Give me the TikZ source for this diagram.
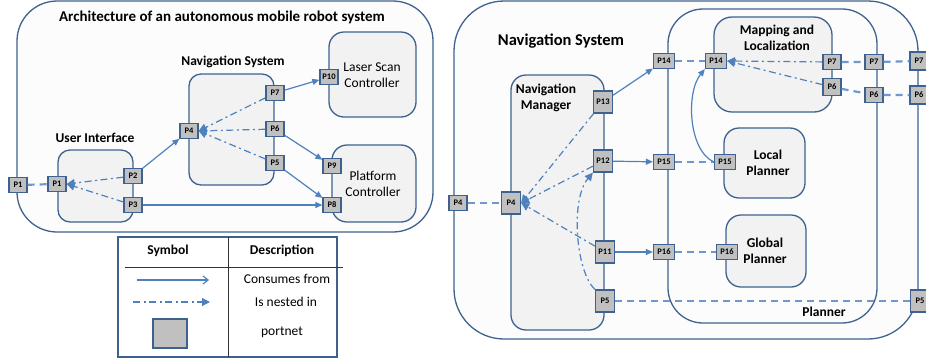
\documentclass[tikz,border=0pt]{standalone}
\usepackage{fontspec}
\setmainfont{Carlito}
\usetikzlibrary{arrows.meta,positioning}

\definecolor{linkblue}{RGB}{79,129,189}
\definecolor{dashblue}{RGB}{112,152,206}
\definecolor{boxline}{RGB}{62,98,143}
\definecolor{boxfill}{RGB}{242,242,242}
\definecolor{outerfill}{RGB}{252,252,252}
\definecolor{portfill}{RGB}{192,192,192}

\tikzset{
    outerbox/.style={draw=boxline, line width=1.3pt, fill=outerfill, rounded corners=#1},
    compbox/.style={draw=boxline, line width=1.3pt, fill=boxfill, rounded corners=#1},
    port/.style={draw=boxline, line width=1.3pt, fill=portfill, inner sep=0pt,
        font=\fontsize{8.5}{9}\selectfont\bfseries, minimum width=18pt, minimum height=15pt},
    bigport/.style={port, minimum width=19pt, minimum height=22pt},
    consumes/.style={draw=linkblue, line width=1.2pt, -{Triangle[length=7pt,width=6pt]}},
    nested/.style={draw=linkblue, line width=1.2pt, dash pattern=on 7pt off 3.5pt on 2pt off 3.5pt,
        -{Triangle[length=8pt,width=8pt]}},
    link/.style={draw=dashblue, line width=2.2pt, dash pattern=on 7pt off 5pt},
    heading/.style={font=\fontsize{13.5}{16}\selectfont\bfseries, align=center},
    plain/.style={font=\fontsize{13.5}{15.5}\selectfont, align=center}
}

\begin{document}
\begin{tikzpicture}[x=1pt,y=-1pt]
        \useasboundingbox (0,0) rectangle (926,360);
        \clip (0,0) rectangle (926,360);

        % architecture of the robot system
        \node[outerbox=40pt, minimum width=416pt, minimum height=231pt] (arch) at (225,116.5) {};
        \node[heading, font=\fontsize{15}{17}\selectfont\bfseries] (archtitle) at (222,17) {Architecture of an autonomous mobile robot system};

        \node[compbox=12pt, minimum width=75pt, minimum height=72pt] (ui) at (95.5,186) {};
        \node[compbox=12pt, minimum width=85pt, minimum height=111pt] (nav) at (231.5,129.5) {};
        \node[compbox=15pt, minimum width=87pt, minimum height=85pt] (lsc) at (372.5,74.5) {};
        \node[compbox=15pt, minimum width=84pt, minimum height=77pt] (pc) at (374,183.5) {};

        \node[heading] (uilabel) at (95,138) {User Interface};
        \node[heading] (navlabel) at (233,62) {Navigation System};
        \node[plain] (lsclabel) at (372,75) {Laser Scan\\Controller};
        \node[plain] (pclabel) at (373,184) {Platform\\Controller};

        \node[port] (p1out) at (18,185) {P1};
        \node[port] (p1) at (57,184) {P1};
        \node[port] (p2) at (133,176) {P2};
        \node[port] (p3) at (133,205) {P3};
        \node[port] (p4) at (189,131) {P4};
        \node[port] (p7) at (275,93) {P7};
        \node[port] (p6) at (275,129) {P6};
        \node[port] (p5) at (275,163) {P5};
        \node[port] (p10) at (329,77) {P10};
        \node[port] (p9) at (332,166) {P9};
        \node[port] (p8) at (332,205) {P8};

        \draw[link] (p1out) -- (p1);
        \draw[nested] (p2) -- (p1.east);
        \draw[nested] (p3) -- (p1.east);
        \draw[consumes] (p2) -- (p4);
        \draw[consumes] (p3) -- (p8);
        \draw[nested] (p7) -- (p4.east);
        \draw[nested] (p6) -- (p4.east);
        \draw[nested] (p5) -- (p4.east);
        \draw[consumes] (p7) -- (p10);
        \draw[consumes] (p6) -- (p9);
        \draw[consumes] (p5) -- (p8);

        % legend
        \draw[boxline, line width=1.2pt] (118,237) rectangle (337,357);
        \draw[black!80, line width=0.8pt] (228,237) -- (228,357);
        \draw[black!80, line width=0.8pt] (125,267) -- (343,267);
        \node[heading] (symhead) at (168,251) {Symbol};
        \node[heading] (deschead) at (282,251) {Description};
        \coordinate (cstart) at (137,280);
        \coordinate (cend) at (209,280);
        \coordinate (nstart) at (133,302);
        \coordinate (nend) at (210,302);
        \draw[consumes, -{Straight Barb[length=5pt,width=8pt]}] (cstart) -- (cend);
        \draw[nested] (nstart) -- (nend);
        \node[port, minimum width=34pt, minimum height=29pt] (lgport) at (170,333.5) {};
        \node[plain] (cdesc) at (287,279) {Consumes from};
        \node[plain] (ndesc) at (286,302) {Is nested in};
        \node[plain] (pdesc) at (282,332) {portnet};

        % navigation system in detail
        \node[outerbox=50pt, minimum width=464pt, minimum height=338pt] (navsys) at (686,170) {};
        \node[heading, font=\fontsize{16.5}{19}\selectfont\bfseries] (navsystitle) at (561,41) {Navigation System};

        \node[outerbox=35pt, minimum width=209pt, minimum height=314pt] (planner) at (772.5,166) {};
        \node[compbox=15pt, minimum width=93pt, minimum height=255pt] (navmgr) at (557.5,202.5) {};
        \node[compbox=18pt, minimum width=118pt, minimum height=95pt] (mapping) at (773,64.5) {};
        \node[compbox=15pt, minimum width=81pt, minimum height=70pt] (local) at (764.5,163) {};
        \node[compbox=15pt, minimum width=80pt, minimum height=72pt] (global) at (766,251) {};

        \node[heading] (navmgrlabel) at (546,98) {Navigation\\Manager};
        \node[heading] (mappinglabel) at (777,38) {Mapping and\\Localization};
        \node[heading] (locallabel) at (768,163) {Local\\Planner};
        \node[heading] (globallabel) at (765,251) {Global\\Planner};
        \node[heading] (plannerlabel) at (824,312) {Planner};

        \node[port] (n4out) at (458,203) {P4};
        \node[bigport] (n4) at (511,203) {P4};
        \node[bigport] (n13) at (603,102) {P13};
        \node[bigport] (n12) at (603,161) {P12};
        \node[bigport] (n11) at (605,252) {P11};
        \node[bigport] (n5) at (605,301) {P5};
        \node[port, minimum width=21pt] (pl14) at (664,61) {P14};
        \node[port, minimum width=21pt] (pl15) at (664,162) {P15};
        \node[port, minimum width=21pt] (pl16) at (664,252) {P16};
        \node[port, minimum width=21pt] (ml14) at (716,61) {P14};
        \node[port, minimum width=21pt] (lp15) at (725,162) {P15};
        \node[port, minimum width=21pt] (gp16) at (727,252) {P16};
        \node[port] (ml7) at (832,62) {P7};
        \node[port, minimum height=17pt] (ml6) at (832,87) {P6};
        \node[port] (pl7) at (874,62) {P7};
        \node[port] (pl6) at (874,95) {P6};
        \node[port, minimum height=18pt] (o7) at (919,61) {P7};
        \node[port, minimum height=18pt] (o6) at (919,95) {P6};
        \node[bigport] (o5) at (920,301) {P5};

        \draw[link] (n4out) -- (n4);
        \draw[nested] (n13) -- (n4.east);
        \draw[nested] (n12) -- (n4.east);
        \draw[nested] (n11) -- (n4.east);
        \draw[nested] (n5.north west) .. controls (576,272) and (570,200) .. (n12.south west);
        \draw[consumes] (n13) -- (pl14);
        \draw[consumes] (n12) -- (pl15);
        \draw[consumes] (n11) -- (pl16);
        \draw[link] (n5) -- (o5);
        \draw[link] (pl14) -- (ml14);
        \draw[link] (pl15) -- (lp15);
        \draw[link] (pl16) -- (gp16);
        \draw[nested] (ml7) -- (ml14.east);
        \draw[nested] (ml6) -- (ml14.east);
        \draw[link] (ml7) -- (pl7) -- (o7);
        \draw[link] (ml6) -- (pl6) -- (o6);
        \draw[consumes] (lp15.west) .. controls (688,150) and (686,92) .. (ml14.south west);
\end{tikzpicture}
\end{document}
